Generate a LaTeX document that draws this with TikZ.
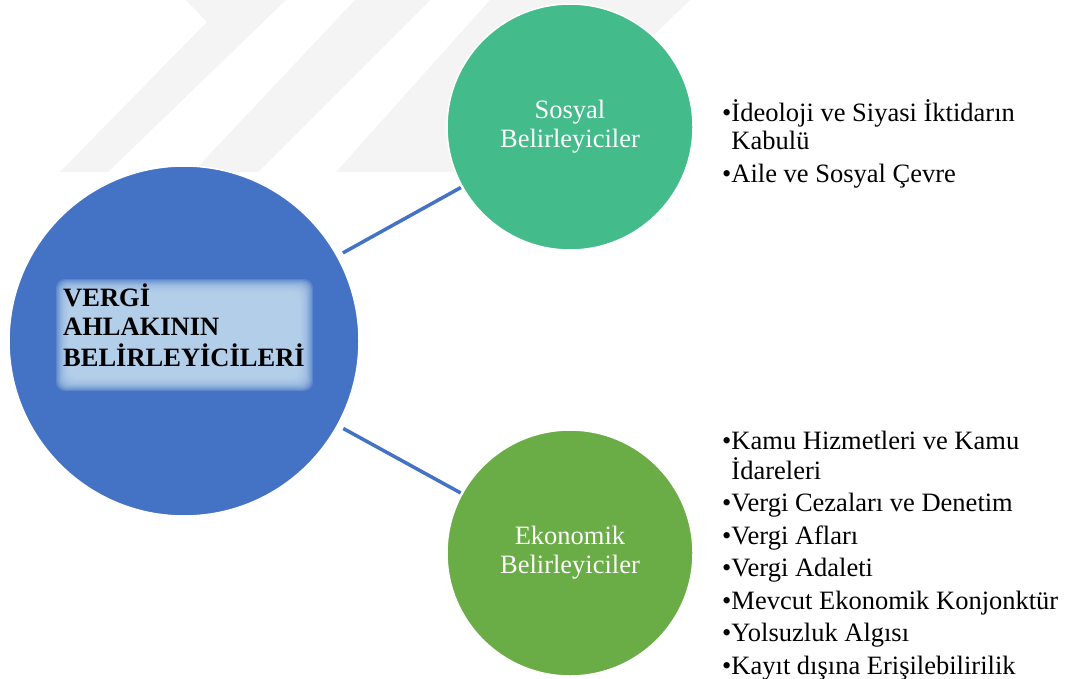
\documentclass[tikz,border=0pt]{standalone}
\usepackage{fontspec}
\setmainfont{Liberation Serif}
\definecolor{cblue}{HTML}{4472C4}
\definecolor{cteal}{HTML}{43BB8B}
\definecolor{cgreen}{HTML}{6AAC46}
\definecolor{cglow}{HTML}{BDD7EE}
\definecolor{wmark}{HTML}{F4F4F4}
\begin{document}
\begin{tikzpicture}[x=1pt,y=-1pt,
  bigcirc/.style={circle, draw=white, line width=1.5pt, inner sep=0pt, text=white,
    align=center, font=\fontsize{26.5}{29}\selectfont},
  listtext/.style={anchor=base west, inner sep=0pt, font=\fontsize{26.5}{28}\selectfont},
  connector/.style={draw=cblue, line width=3.5pt}]
\useasboundingbox (0,0) rectangle (1070,679);
\fill[white] (0,0) rectangle (1070,679);
% watermark
\fill[wmark] (186,0) -- (286,0) -- (108,172) -- (60,172) -- (207,22) -- cycle;
\fill[wmark] (355,0) -- (430,0) -- (258,172) -- (193,172) -- cycle;
\fill[wmark] (490,0) -- (690,0) -- (512,172) -- (336,172) -- cycle;
% circles
\node[bigcirc, fill=cblue, minimum size=350pt] (main) at (184,341) {};
\node[bigcirc, fill=cteal, minimum size=246pt] (sos) at (570,127) {Sosyal\\Belirleyiciler};
\node[bigcirc, fill=cgreen, minimum size=246pt] (eko) at (570,553) {Ekonomik\\Belirleyiciler};
% connectors
\draw[connector, shorten <=6pt, shorten >=1pt] (main) -- (sos);
\draw[connector, shorten <=6pt, shorten >=1pt] (main) -- (eko);
% glow behind main label
\foreach \i in {0,...,11}{
  \fill[cglow, opacity=0.2, rounded corners=9pt]
    (56+1.2*\i,279+1.2*\i) rectangle (313-1.2*\i,391-1.2*\i);
}
\node[anchor=base west, inner sep=0pt, font=\bfseries\fontsize{26.5}{29}\selectfont] (mainlabel) at (63,306)
  {\begin{tabular}[t]{@{}l@{}}VERGİ\\AHLAKININ\\BELİRLEYİCİLERİ\end{tabular}};
% lists
\node[listtext] (soslist) at (722,122)
  {\begin{tabular}[t]{@{}l@{}}•İdeoloji ve Siyasi İktidarın\\\hphantom{•}Kabulü\\[4.5pt]•Aile ve Sosyal Çevre\end{tabular}};
\node[listtext] (ekolist) at (722,449)
  {\begin{tabular}[t]{@{}l@{}}•Kamu Hizmetleri ve Kamu\\\hphantom{•}İdareleri\\[4.5pt]•Vergi Cezaları ve Denetim\\[4.5pt]•Vergi Afları\\[4.5pt]•Vergi Adaleti\\[4.5pt]•Mevcut Ekonomik Konjonktür\\[4.5pt]•Yolsuzluk Algısı\\[4.5pt]•Kayıt dışına Erişilebilirilik\end{tabular}};
\end{tikzpicture}
\end{document}
